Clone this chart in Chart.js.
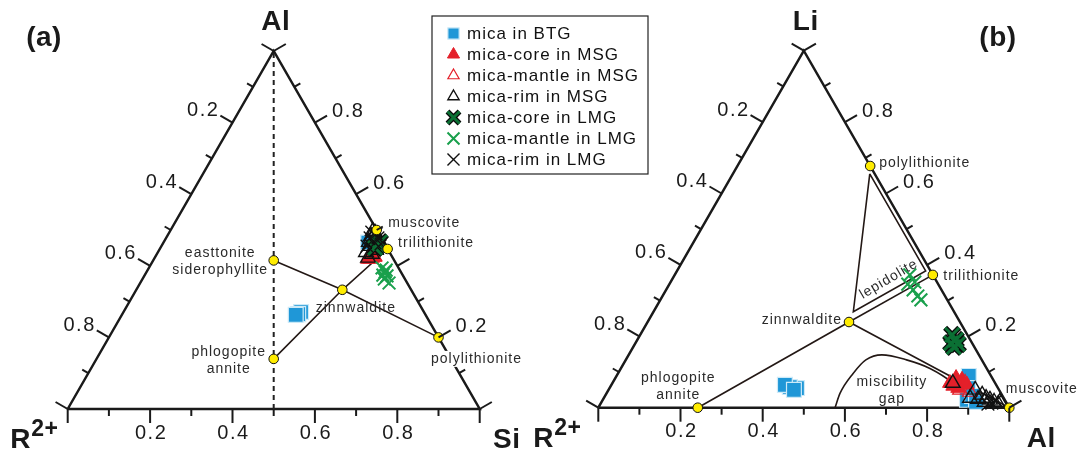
<!DOCTYPE html>
<html>
<head>
<meta charset="utf-8">
<script src="https://cdn.jsdelivr.net/npm/chart.js@4.4.0/dist/chart.umd.min.js"></script>
<style>
  html, body { margin: 0; padding: 0; background: #fff; }
  #wrap { position: relative; width: 1084px; height: 451px; }
  #wrap canvas { position: absolute; left: 0; top: 0; }
</style>
</head>
<body>
<div id="wrap">
  <canvas id="chartA" width="1084" height="451"></canvas>
  <canvas id="chartB" width="1084" height="451"></canvas>
</div>
<script>
// Compositions are [left corner, top corner, right corner] fractions.
// (a) R2+ - Al - Si      (b) R2+ - Li - Al

const seriesNames = ['mica in BTG', 'mica-core in MSG', 'mica-mantle in MSG', 'mica-rim in MSG',
                     'mica-core in LMG', 'mica-mantle in LMG', 'mica-rim in LMG'];
const tickValues = [0, 0.1, 0.2, 0.3, 0.4, 0.5, 0.6, 0.7, 0.8, 0.9, 1];
const tickLabels = ['0.2', '0.4', '0.6', '0.8'];

// ---- panel (a): R2+ - Al - Si
const btgA = [[0.298, 0.271, 0.431], [0.308, 0.265, 0.427], [0.315, 0.263, 0.422], [0.038, 0.465, 0.497]];
const msgCoreA = [[0.062, 0.419, 0.519], [0.050, 0.422, 0.528], [0.042, 0.425, 0.533], [0.053, 0.427, 0.520]];
const msgMantleA = [[0.055, 0.419, 0.526], [0.044, 0.425, 0.531]];
const msgRimA = [[0.060, 0.422, 0.518], [0.045, 0.433, 0.522], [0.057, 0.438, 0.505], [0.039, 0.455, 0.506],
                 [0.022, 0.469, 0.509], [0.022, 0.483, 0.495], [0.008, 0.492, 0.500], [0.011, 0.497, 0.492],
                 [0.036, 0.466, 0.498], [0.030, 0.444, 0.526], [0.009, 0.472, 0.519]];
const lmgCoreA = [[0.018, 0.458, 0.524], [0.029, 0.450, 0.521], [0.009, 0.466, 0.525]];
const lmgMantleA = [[0.040, 0.394, 0.566], [0.038, 0.383, 0.579], [0.039, 0.372, 0.589], [0.050, 0.363, 0.587],
                    [0.044, 0.352, 0.604], [0.033, 0.388, 0.579], [0.048, 0.374, 0.578]];
const lmgRimA = [[0.015, 0.494, 0.491], [0.007, 0.489, 0.504], [0.027, 0.478, 0.495], [0.008, 0.478, 0.514],
                 [0.022, 0.464, 0.514], [0.009, 0.461, 0.530], [0.046, 0.455, 0.499]];

const endNamesA = ['muscovite', 'trilithionite', 'polylithionite', 'zinnwaldite', 'easttonite\nsiderophyllite', 'phlogopite\nannite'];
const endCompA = [[0, 0.5, 0.5], [0, 0.447, 0.553], [0, 0.2, 0.8], [0.167, 0.333, 0.5], [0.2925, 0.415, 0.2925], [0.43, 0.14, 0.43]];

// ---- panel (b): R2+ - Li - Al
const btgB = [[0.489, 0.055, 0.456], [0.505, 0.058, 0.437], [0.514, 0.064, 0.422], [0.499, 0.050, 0.451],
              [0.054, 0.089, 0.857], [0.073, 0.055, 0.872], [0.092, 0.022, 0.886], [0.074, 0.033, 0.893], [0.073, 0.016, 0.911]];
const msgCoreB = [[0.110, 0.069, 0.821], [0.088, 0.083, 0.829], [0.076, 0.078, 0.846], [0.071, 0.064, 0.865],
                  [0.097, 0.055, 0.848], [0.106, 0.061, 0.833]];
const msgMantleB = [[0.095, 0.050, 0.855], [0.074, 0.044, 0.882], [0.073, 0.069, 0.858]];
const msgRimB = [[0.103, 0.069, 0.828], [0.058, 0.050, 0.892], [0.048, 0.036, 0.916], [0.043, 0.027, 0.930],
                 [0.036, 0.022, 0.942], [0.029, 0.016, 0.955], [0.022, 0.010, 0.968], [0.064, 0.024, 0.912],
                 [0.052, 0.016, 0.932], [0.082, 0.027, 0.891], [0.015, 0.016, 0.969]];
const lmgCoreB = [[0.037, 0.204, 0.759], [0.035, 0.190, 0.775], [0.050, 0.170, 0.780], [0.036, 0.178, 0.786],
                  [0.051, 0.181, 0.768]];
const lmgMantleB = [[0.056, 0.372, 0.572], [0.054, 0.352, 0.594], [0.069, 0.330, 0.601], [0.066, 0.313, 0.621],
                    [0.064, 0.302, 0.634], [0.074, 0.346, 0.580]];
const lmgRimB = [[0.036, 0.013, 0.951], [0.023, 0.019, 0.958], [0.047, 0.010, 0.943]];

const endNamesB = ['polylithionite', 'trilithionite', 'zinnwaldite', 'phlogopite\nannite', 'muscovite'];
const endCompB = [[0, 0.677, 0.323], [0, 0.372, 0.628], [0.27, 0.24, 0.49], [0.758, 0, 0.242], [0, 0, 1]];

const lepidoliteField = [[0.012, 0.655, 0.333], [0.245, 0.269, 0.486], [0.012, 0.383, 0.605], [0.012, 0.655, 0.333]];
const miscibilityGap = [[0.424, 0, 0.576], [0.392, 0.040, 0.568], [0.332, 0.096, 0.572], [0.282, 0.134, 0.584],
                        [0.236, 0.148, 0.616], [0.183, 0.134, 0.683], [0.138, 0.110, 0.752], [0.102, 0.068, 0.830],
                        [0.085, 0.022, 0.893], [0.071, 0, 0.929]];

const FONT = '"Liberation Sans", Arial, Helvetica, sans-serif';
const INK = '#1a1a1a';

// ternary composition -> cartesian (x along base, y = top fraction)
function tern(c) {
  const sum = c[0] + c[1] + c[2];
  return { x: c[2] / sum + c[1] / sum / 2, y: c[1] / sum };
}
const pts = arr => arr.map(tern);

const markerStyles = [
  { style: 'rect', r: 10.5, fill: '#1f97d7', stroke: '#cdeaf8', width: 1.2, lr: 8 },
  { style: 'triangle', r: 8.5, fill: '#e4202a', stroke: '#e4202a', width: 1, lr: 7 },
  { style: 'triangle', r: 8.5, fill: 'rgba(255,255,255,0)', stroke: '#e4202a', width: 1.2, lr: 6.5 },
  { style: 'triangle', r: 8.5, fill: 'rgba(255,255,255,0)', stroke: '#111', width: 1.4, lr: 6.5 },
  { style: 'crossRot', r: 10, fill: null, stroke: '#0b7034', width: 3, lr: 8.5, outline: '#0a0a0a' },
  { style: 'crossRot', r: 9, fill: null, stroke: '#19a04c', width: 2, lr: 8.5 },
  { style: 'crossRot', r: 9, fill: null, stroke: '#111', width: 1.4, lr: 8.5 }
];

function markerSets(series) {
  const sets = [];
  series.forEach((arr, i) => {
    const m = markerStyles[i];
    if (m.outline) {
      sets.push({ data: pts(arr), pointStyle: m.style, pointRadius: m.r, borderColor: m.outline,
                  borderWidth: m.width + 2.6, backgroundColor: 'transparent', order: 10 - i + 0.5, clip: false });
    }
    sets.push({ label: seriesNames[i], data: pts(arr), pointStyle: m.style, pointRadius: m.r,
                backgroundColor: m.fill || 'transparent', borderColor: m.stroke, borderWidth: m.width,
                order: 10 - i, clip: false });
  });
  return sets;
}

function lineSet(arr, extra) {
  return Object.assign({ data: pts(arr), showLine: true, pointRadius: 0, borderColor: '#231815',
                         borderWidth: 1.6, order: 30, clip: false }, extra || {});
}

const outline = [[1, 0, 0], [0, 0, 1], [0, 1, 0], [1, 0, 0]];

function endSet(arr) {
  return { data: pts(arr), pointStyle: 'circle', pointRadius: 4.8, backgroundColor: '#ffec00',
           borderColor: '#111', borderWidth: 1, order: 0, clip: false };
}

function drawText(ctx, text, x, y, align, bg) {
  const lines = text.split('\n');
  ctx.textAlign = align;
  ctx.textBaseline = 'middle';
  lines.forEach((ln, k) => {
    const yy = y + k * 17;
    if (bg) {
      const w = ctx.measureText(ln).width;
      const x0 = align === 'left' ? x : align === 'right' ? x - w : x - w / 2;
      ctx.fillStyle = '#fff';
      ctx.fillRect(x0 - 2, yy - 8, w + 4, 16);
    }
    ctx.fillStyle = '#2a2a2a';
    ctx.fillText(ln, x, yy);
  });
}

// frame, ticks, axis names and annotations for one ternary panel
function framePlugin(cfg) {
  return {
    id: 'frame' + cfg.tag,
    afterDatasetsDraw(chart) {
      const ctx = chart.ctx;
      const sx = chart.scales.x, sy = chart.scales.y;
      const P = c => { const p = tern(c); return [sx.getPixelForValue(p.x), sy.getPixelForValue(p.y)]; };
      const c30 = Math.cos(Math.PI / 6);
      const edges = [
        { at: t => [1 - t, 0, t], n: [0, 1], side: 'bottom' },
        { at: t => [0, t, 1 - t], n: [c30, -0.5], side: 'right' },
        { at: t => [t, 1 - t, 0], n: [-c30, -0.5], side: 'left' }
      ];
      ctx.save();
      ctx.strokeStyle = INK;
      ctx.lineWidth = 2;
      ctx.font = '20px ' + FONT;
      ctx.letterSpacing = '1.5px';
      edges.forEach(e => {
        tickValues.forEach((t, i) => {
          const [x, y] = P(e.at(t));
          const len = i % 2 ? 7 : 14;
          const ex = x + e.n[0] * len, ey = y + e.n[1] * len;
          ctx.beginPath(); ctx.moveTo(x, y); ctx.lineTo(ex, ey); ctx.stroke();
          const lbl = tickLabels.indexOf(t.toFixed(1));
          if (lbl < 0) return;
          if (e.side === 'right' && cfg.skipRight && cfg.skipRight.includes(tickLabels[lbl])) return;
          ctx.fillStyle = INK;
          ctx.textBaseline = 'middle';
          if (e.side === 'bottom') { ctx.textAlign = 'center'; ctx.fillText(tickLabels[lbl], ex + 1, ey + 10); }
          if (e.side === 'right') { ctx.textAlign = 'left'; ctx.fillText(tickLabels[lbl], ex + 5, ey - 4); }
          if (e.side === 'left') { ctx.textAlign = 'right'; ctx.fillText(tickLabels[lbl], ex - 1, ey - 5); }
        });
      });

      // corner names and panel letter
      const [tx, ty] = P([0, 1, 0]);
      const [lx, ly] = P([1, 0, 0]);
      const [rx, ry] = P([0, 0, 1]);
      ctx.fillStyle = INK;
      ctx.font = 'bold 28px ' + FONT;
      ctx.letterSpacing = '0.5px';
      ctx.textBaseline = 'alphabetic';
      ctx.textAlign = 'center';
      ctx.fillText(cfg.top, tx + 2, ty - 21);
      ctx.fillText(cfg.right, rx + cfg.rightDx, ry + 39);
      ctx.textAlign = 'left';
      ctx.fillText('R', lx + cfg.rDx, ly + 39);
      ctx.font = 'bold 23px ' + FONT;
      ctx.fillText('2+', lx + cfg.rDx + 21, ly + 27);
      ctx.font = 'bold 28px ' + FONT;
      ctx.textAlign = 'center';
      ctx.fillText(cfg.letter, cfg.letterX, 46);

      // end-member labels
      ctx.font = '14px ' + FONT;
      ctx.letterSpacing = '1px';
      cfg.names.forEach((name, i) => {
        const [x, y] = P(cfg.comps[i]);
        const o = cfg.offsets[i];
        drawText(ctx, name, x + o[0], y + o[1], o[2], o[3]);
      });
      if (cfg.extra) cfg.extra(ctx, P);
      ctx.restore();
    }
  };
}

// boxed legend between the two panels
const legendPlugin = {
  id: 'boxLegend',
  afterDraw(chart) {
    const ctx = chart.ctx;
    const x0 = 432, y0 = 16, w = 216, h = 158;
    ctx.save();
    ctx.fillStyle = '#fff';
    ctx.fillRect(x0, y0, w, h);
    ctx.strokeStyle = '#222';
    ctx.lineWidth = 1.2;
    ctx.strokeRect(x0, y0, w, h);
    ctx.font = '17px ' + FONT;
    ctx.letterSpacing = '1px';
    ctx.textBaseline = 'middle';
    ctx.textAlign = 'left';
    seriesNames.forEach((name, i) => {
      const m = markerStyles[i];
      const cy = y0 + 17.5 + i * 21;
      const cx = x0 + 21.5;
      const opts = { pointStyle: m.style, radius: m.lr, rotation: 0, borderWidth: m.width };
      if (m.outline) {
        ctx.fillStyle = 'transparent';
        ctx.strokeStyle = m.outline;
        ctx.lineWidth = m.width + 2.4;
        Chart.helpers.drawPoint(ctx, opts, cx, cy);
      }
      ctx.fillStyle = m.fill || 'transparent';
      ctx.strokeStyle = m.stroke;
      ctx.lineWidth = m.width;
      Chart.helpers.drawPoint(ctx, opts, cx, cy);
      ctx.fillStyle = '#111';
      ctx.fillText(name, x0 + 35, cy + 1);
    });
    ctx.restore();
  }
};

const baseOptions = (pad) => ({
  responsive: false,
  animation: false,
  events: [],
  layout: { padding: pad },
  scales: {
    x: { type: 'linear', min: 0, max: 1, display: false },
    y: { type: 'linear', min: 0, max: 1, display: false }
  },
  plugins: { legend: { display: false }, tooltip: { enabled: false } }
});

// ---- panel (a)
new Chart(document.getElementById('chartA'), {
  type: 'scatter',
  data: {
    datasets: [
      endSet(endCompA),
      ...markerSets([btgA, msgCoreA, msgMantleA, msgRimA, lmgCoreA, lmgMantleA, lmgRimA]),
      lineSet([endCompA[4], endCompA[3], endCompA[2]]),
      lineSet([endCompA[5], endCompA[3], endCompA[1]]),
      lineSet([[0.5, 0, 0.5], [0, 1, 0]], { borderDash: [5, 4], borderWidth: 2, borderColor: '#222' }),
      lineSet(outline, { borderColor: INK, borderWidth: 2.5, order: 40 })
    ]
  },
  options: baseOptions({ left: 67.7, right: 604.3, top: 51, bottom: 42 }),
  plugins: [framePlugin({
    tag: 'A', top: 'Al', right: 'Si', rightDx: 27, rDx: -57.5, letter: '(a)', letterX: 44,
    names: endNamesA, comps: endCompA, skipRight: ['0.4'],
    offsets: [[11.5, -7, 'left'], [10.5, -5.5, 'left'], [-7.5, 21.5, 'left', true], [13.5, 18, 'center'],
              [-53.5, -7.5, 'center'], [-45, -7, 'center']]
  }), legendPlugin]
});

// ---- panel (b)
new Chart(document.getElementById('chartB'), {
  type: 'scatter',
  data: {
    datasets: [
      endSet(endCompB),
      ...markerSets([btgB, msgCoreB, msgMantleB, msgRimB, lmgCoreB, lmgMantleB, lmgRimB]),
      lineSet([endCompB[3], endCompB[2], endCompB[4]]),
      lineSet([endCompB[2], endCompB[1]]),
      lineSet(lepidoliteField),
      lineSet(miscibilityGap, { cubicInterpolationMode: 'monotone' }),
      lineSet(outline, { borderColor: INK, borderWidth: 2.5, order: 40 })
    ]
  },
  options: baseOptions({ left: 598.3, right: 74.7, top: 50.7, bottom: 43.3 }),
  plugins: [framePlugin({
    tag: 'B', top: 'Li', right: 'Al', rightDx: 32, rDx: -65, letter: '(b)', letterX: 998,
    names: endNamesB, comps: endCompB,
    offsets: [[9, -2.5, 'left'], [10.5, 1, 'left'], [-7, -1.5, 'right'], [-19.5, -30, 'center'], [-3.5, -18.5, 'left']],
    extra: (ctx, P) => {
      const [px, py] = P(miscibilityGap[4]);
      drawText(ctx, 'miscibility\ngap', px + 10, py + 27, 'center');
      const [qx, qy] = P(lepidoliteField[1]);
      ctx.save();
      ctx.translate(qx + 35.5, qy - 32.5);
      ctx.rotate(-30.5 * Math.PI / 180);
      drawText(ctx, 'lepidolite', 0, 0, 'center');
      ctx.restore();
    }
  })]
});
</script>
</body>
</html>
